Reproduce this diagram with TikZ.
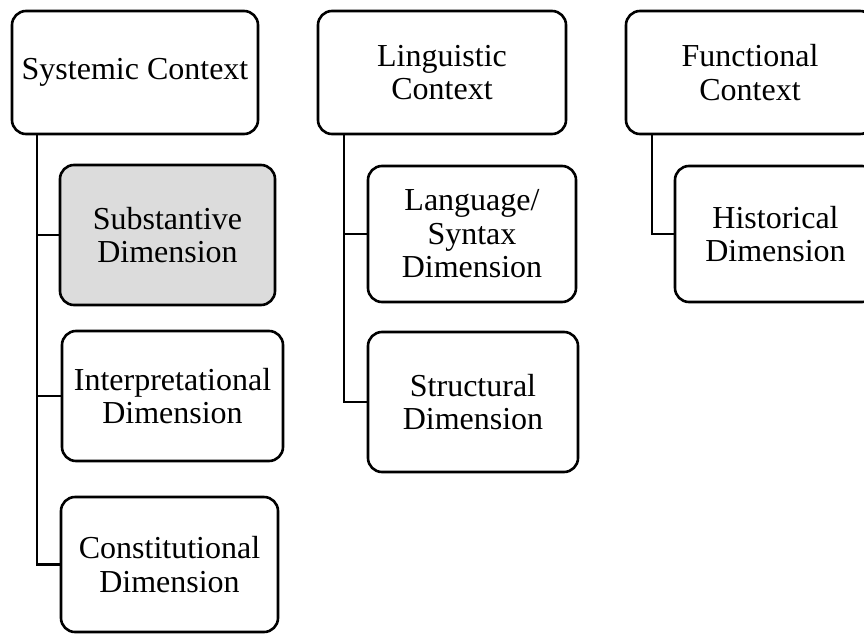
\documentclass[tikz,border=0pt]{standalone}
\usepackage{fontspec}
\setmainfont{Liberation Serif}
\definecolor{shade}{RGB}{220,220,220}
\begin{document}
\begin{tikzpicture}[x=1pt,y=-1pt,
  box/.style={draw=black, line width=2.6pt, rounded corners=14pt, fill=white,
    align=center, inner sep=2pt, font=\fontsize{32}{33.5}\selectfont},
  link/.style={draw=black, line width=2.6pt, line join=miter}]
\useasboundingbox (0,0) rectangle (864,634);
\clip (0,0) rectangle (864,634);
% connectors first, boxes over them
\coordinate (t1) at (37,134);
\coordinate (t2) at (344,134);
\coordinate (t3) at (652,134);
% parents
\node[box, minimum width=246pt, minimum height=123pt] (sys) at (135,72.5) {Systemic Context};
\node[box, minimum width=248pt, minimum height=123pt] (ling) at (442,72.5) {Linguistic\\Context};
\node[box, minimum width=248pt, minimum height=123pt] (fun) at (750,72.5) {Functional\\Context};
% children
\node[box, fill=shade, minimum width=215pt, minimum height=140pt] (sub) at (167.5,235) {Substantive\\Dimension};
\node[box, minimum width=221pt, minimum height=130pt] (int) at (172.5,396) {Interpretational\\Dimension};
\node[box, minimum width=217pt, minimum height=135pt] (con) at (169.5,564.5) {Constitutional\\Dimension};
\node[box, minimum width=208pt, minimum height=136pt] (lang) at (472,234) {Language/\\Syntax\\Dimension};
\node[box, minimum width=210pt, minimum height=140pt] (str) at (473,402) {Structural\\Dimension};
\node[box, minimum width=201pt, minimum height=136pt] (his) at (775.5,234) {Historical\\Dimension};
\draw[link] (sys.south -| t1) |- (sub.west);
\draw[link] (sys.south -| t1) |- (int.west);
\draw[link] (sys.south -| t1) |- (con.west);
\draw[link] (ling.south -| t2) |- (lang.west);
\draw[link] (ling.south -| t2) |- (str.west);
\draw[link] (fun.south -| t3) |- (his.west);
\end{tikzpicture}
\end{document}
